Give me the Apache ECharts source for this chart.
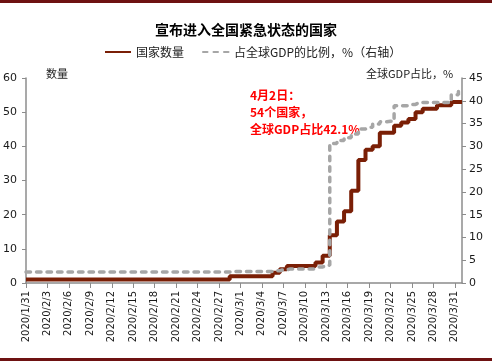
<!DOCTYPE html>
<html>
<head>
<meta charset="utf-8">
<script src="https://cdn.jsdelivr.net/npm/echarts@6/dist/echarts.min.js"></script>
<style>
html,body{margin:0;padding:0;background:#fff;}
#chart{width:492px;height:361px;}
</style>
</head>
<body>
<div id="chart"></div>
<script>
var dates = ['2020/1/31',
'2020/2/1','2020/2/2','2020/2/3','2020/2/4','2020/2/5','2020/2/6','2020/2/7','2020/2/8','2020/2/9','2020/2/10',
'2020/2/11','2020/2/12','2020/2/13','2020/2/14','2020/2/15','2020/2/16','2020/2/17','2020/2/18','2020/2/19','2020/2/20',
'2020/2/21','2020/2/22','2020/2/23','2020/2/24','2020/2/25','2020/2/26','2020/2/27','2020/2/28','2020/2/29',
'2020/3/1','2020/3/2','2020/3/3','2020/3/4','2020/3/5','2020/3/6','2020/3/7','2020/3/8','2020/3/9','2020/3/10',
'2020/3/11','2020/3/12','2020/3/13','2020/3/14','2020/3/15','2020/3/16','2020/3/17','2020/3/18','2020/3/19','2020/3/20',
'2020/3/21','2020/3/22','2020/3/23','2020/3/24','2020/3/25','2020/3/26','2020/3/27','2020/3/28','2020/3/29','2020/3/30',
'2020/3/31','2020/4/1'];

var countryCount = [1,1,1,1,1,1,1,1,1,1,1,1,1,1,1,1,1,1,1,1,1,1,1,1,1,1,1,1,1,
2,2,2,2,2,2,
3,4,5,5,5,5,6,8,
14,18,21,27,36,39,40,44,44,46,47,48,50,51,51,52,52,53,53];

var gdpShare = [2.4,2.4,2.4,2.4,2.4,2.4,2.4,2.4,2.4,2.4,2.4,2.4,2.4,2.4,2.4,2.4,2.4,2.4,2.4,2.4,2.4,2.4,2.4,2.4,2.4,2.4,2.4,2.4,2.4,
2.5,2.5,2.5,2.5,2.5,2.5,
2.7,2.9,3.1,3.1,3.1,3.1,3.5,3.9,
30.6,31.3,31.9,32.7,33.8,34.2,34.9,35.4,35.5,38.9,38.9,39.2,39.6,39.6,39.6,39.6,39.6,41.3,42.1];

var titleText = '宣布进入全国紧急状态的国家';
var seriesNames = ['国家数量', '占全球GDP的比例，%（右轴）'];
var annotationLines = ['4月2日：', '54个国家，', '全球GDP占比42.1%'];

var chart = echarts.init(document.getElementById('chart'), null, {renderer: 'canvas'});
var cjk = '"Noto Sans CJK SC", sans-serif';
var num = '"DejaVu Sans", sans-serif';
var axisGray = '#8c8c8c';
var brown = '#7a1f06';
var gray = '#a6a6a6';

chart.setOption({
  animation: false,
  backgroundColor: '#fff',
  title: {
    text: titleText, left: 'center', top: 18,
    textStyle: {fontFamily: cjk, fontSize: 14, fontWeight: 'bold', color: '#000'}
  },
  legend: {
    top: 46, left: 104, padding: 0, itemWidth: 26, itemHeight: 12, itemGap: 18,
    itemStyle: {opacity: 0},
    textStyle: {fontFamily: cjk, fontSize: 12, color: '#222'},
    data: seriesNames
  },
  grid: {left: 26, right: 30, top: 78, bottom: 78},
  xAxis: {
    type: 'category', data: dates, boundaryGap: false,
    axisLine: {lineStyle: {color: axisGray, width: 1.5}},
    axisTick: {interval: 2, length: 5, lineStyle: {color: axisGray}},
    axisLabel: {interval: 2, rotate: 90, margin: 8, fontFamily: num, fontSize: 10, color: '#1a1a1a'},
    splitLine: {show: false}
  },
  yAxis: [{
    type: 'value', min: 0, max: 60, interval: 10,
    axisLine: {show: true, lineStyle: {color: axisGray, width: 1.5}},
    axisTick: {show: true, length: 4, lineStyle: {color: axisGray}},
    axisLabel: {margin: 9, fontFamily: num, fontSize: 11, color: '#1a1a1a'},
    splitLine: {show: false}
  }, {
    type: 'value', min: 0, max: 45, interval: 5, position: 'right',
    axisLine: {show: true, lineStyle: {color: axisGray, width: 1.5}},
    axisTick: {show: true, length: 4, lineStyle: {color: axisGray}},
    axisLabel: {margin: 7, fontFamily: num, fontSize: 11, color: '#1a1a1a'},
    splitLine: {show: false}
  }],
  series: [{
    name: seriesNames[0], type: 'line', yAxisIndex: 0, step: 'middle',
    data: countryCount, symbol: 'none',
    lineStyle: {color: brown, width: 4},
    itemStyle: {color: brown}
  }, {
    name: seriesNames[1], type: 'line', yAxisIndex: 1, step: 'middle',
    data: gdpShare, symbol: 'none',
    lineStyle: {color: gray, width: 3.5, type: [4.5, 6], cap: 'round'},
    itemStyle: {color: gray}
  }],
  graphic: [
    {type: 'rect', shape: {x: 0, y: 0, width: 492, height: 3}, style: {fill: '#6e1212'}},
    {type: 'rect', shape: {x: 0, y: 358, width: 492, height: 3}, style: {fill: '#6e1212'}},
    {type: 'text', left: 46, top: 68, style: {text: '数量', font: '11px ' + cjk, fill: '#222'}},
    {type: 'text', left: 366, top: 68, style: {text: '全球GDP占比，%', font: '11px ' + cjk, fill: '#222'}},
    {type: 'text', left: 250, top: 87, style: {text: annotationLines.join('\n'), font: 'bold 12px ' + cjk, fill: '#ff0000', lineHeight: 17}}
  ]
});
</script>
</body>
</html>
